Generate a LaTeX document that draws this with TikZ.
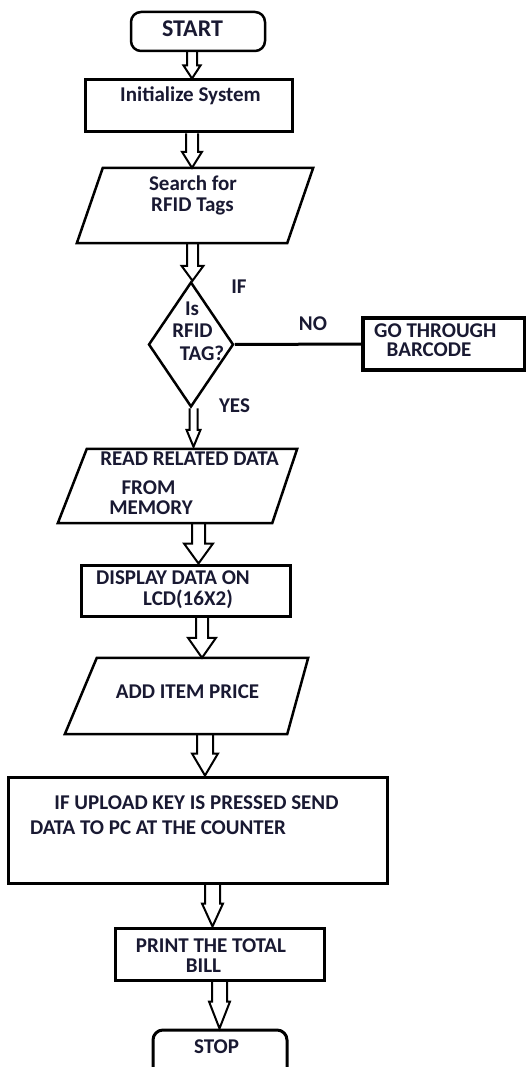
\documentclass[tikz,border=0pt]{standalone}
\usepackage{fontspec}
\setmainfont{Carlito}
\usetikzlibrary{calc,shapes.geometric}
\definecolor{txt}{RGB}{25,25,50}
\tikzset{
  box/.style={draw=black, line width=3pt, inner sep=0pt, minimum width=#1},
  lbl/.style={text=txt, font=\bfseries\fontsize{21}{25}\selectfont, anchor=base, inner sep=0pt},
  harrow/.style n args={3}{line width=2pt, line join=miter, to path={let \p1=(\tikztostart), \p2=(\tikztotarget) in
    (\x1-#1,\y1) -- (\x1-#1,\y2+#3) -- (\x1-#2,\y2+#3) -- (\x1,\y2) -- (\x1+#2,\y2+#3) -- (\x1+#1,\y2+#3) -- (\x1+#1,\y1)}},
}
\begin{document}
\begin{tikzpicture}[x=1pt,y=-1pt]
\useasboundingbox (0,0) rectangle (526,1067);
\fill[white] (0,0) rectangle (526,1067);
\clip (0,0) rectangle (526,1067);

% shapes
\node[draw, line width=2.5pt, rounded corners=10pt, minimum width=134pt, minimum height=39pt, inner sep=0pt] (start) at (198,31.5) {};
\node[box=207pt, minimum height=52pt] (init) at (188.5,106) {};
\node[minimum width=236pt, minimum height=75pt, inner sep=0pt] (search) at (195,205.5) {};
\draw[line width=2.5pt, line join=miter] ([xshift=26pt]search.north west) -- (search.north east) -- ([xshift=-26pt]search.south east) -- (search.south west) -- cycle;
\node[draw, diamond, line width=2.5pt, minimum width=85pt, minimum height=125pt, inner sep=0pt] (dec) at (191,344.5) {};
\node[draw, line width=4pt, minimum width=162pt, minimum height=52pt, inner sep=0pt] (go) at (444,344) {};
\node[minimum width=239pt, minimum height=74pt, inner sep=0pt] (read) at (177.5,486) {};
\draw[line width=2.5pt, line join=miter] ([xshift=29pt]read.north west) -- (read.north east) -- ([xshift=-25pt]read.south east) -- (read.south west) -- cycle;
\node[box=209pt, minimum height=51pt] (disp) at (185.5,590.5) {};
\node[minimum width=243pt, minimum height=76pt, inner sep=0pt] (add) at (186.5,696) {};
\draw[line width=2.5pt, line join=miter] ([xshift=32pt]add.north west) -- (add.north east) -- ([xshift=-21pt]add.south east) -- (add.south west) -- cycle;
\node[box=379pt, minimum height=106pt] (big) at (197.5,830) {};
\node[box=209pt, minimum height=52pt] (print) at (219.5,954) {};
\node[draw, line width=3pt, rounded corners=10pt, minimum width=134pt, minimum height=70pt, inner sep=0pt] (stop) at (220,1065) {};

% texts
\node[lbl, font=\bfseries\fontsize{24}{28}\selectfont] (tstart) at (192.5,37) {START};
\node[lbl] (tinit) at (190.5,102) {Initialize System};
\node[lbl] (ts1) at (193,191) {Search for};
\node[lbl] (ts2) at (192.5,211.5) {RFID Tags};
\node[lbl] (tif) at (239,293) {IF};
\node[lbl] (td1) at (192,315) {Is};
\node[lbl] (td2) at (192.5,337) {RFID};
\node[lbl] (td3) at (202,360) {TAG?};
\node[lbl] (tno) at (313,330) {NO};
\node[lbl, anchor=base west] (tg1) at (374,337) {GO THROUGH};
\node[lbl] (tg2) at (429,356) {BARCODE};
\node[lbl] (tyes) at (234.5,412) {YES};
\node[lbl] (tr1) at (189.5,465) {READ RELATED DATA};
\node[lbl] (tr2) at (148.5,494) {FROM};
\node[lbl] (tr3) at (151,514) {MEMORY};
\node[lbl] (tdi1) at (173,584) {DISPLAY DATA ON};
\node[lbl] (tdi2) at (188,605) {LCD(16X2)};
\node[lbl] (tadd) at (187.5,698) {ADD ITEM PRICE};
\node[lbl] (tb1) at (196.5,809) {IF UPLOAD KEY IS PRESSED SEND};
\node[lbl] (tb2) at (158,834) {DATA TO PC AT THE COUNTER};
\node[lbl] (tp1) at (211,952) {PRINT THE TOTAL};
\node[lbl] (tp2) at (203.5,972.5) {BILL};
\node[lbl] (tstop) at (216.5,1053) {STOP};

% connectors
\draw[line width=3pt] (dec.east) -- (go.west);
\draw[harrow={5pt}{8.5pt}{13pt}] ([xshift=-6pt]start.south) to (init.north);
\draw[harrow={6pt}{10pt}{16pt}] ([xshift=3.5pt]init.south) to (search.north);
\draw[harrow={5.5pt}{11pt}{15pt}] ([xshift=-2.5pt]search.south) to (dec.north);
\draw[harrow={4pt}{7pt}{17pt}] ([xshift=2.5pt]dec.south) to ([yshift=2pt]read.north);
\draw[harrow={6.5pt}{14.5pt}{20pt}] ([xshift=21pt]read.south) to (disp.north);
\draw[harrow={6pt}{14pt}{20pt}] ([xshift=16.5pt]disp.south) to (add.north);
\draw[harrow={8pt}{13pt}{22pt}] ([xshift=18.5pt]add.south) to (big.north);
\draw[harrow={7.5pt}{10.5pt}{23pt}] ([xshift=15pt]big.south) to (print.north);
\draw[harrow={7.5pt}{10.5pt}{27pt}] ([xshift=0pt]print.south) to (stop.north);
\end{tikzpicture}
\end{document}
